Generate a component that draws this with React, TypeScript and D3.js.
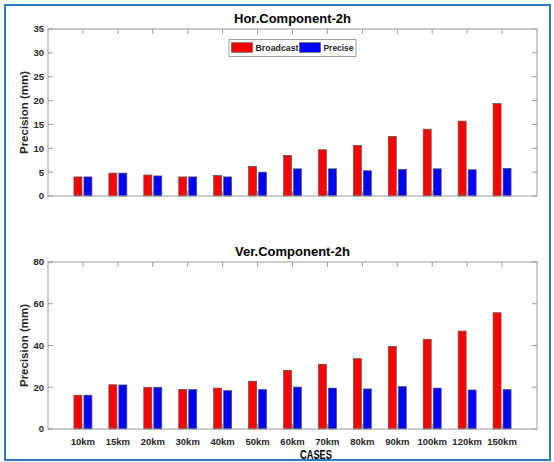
import React from "react";
import { scaleLinear, scaleBand } from "d3";

const cases = ["10km", "15km", "20km", "30km", "40km", "50km", "60km", "70km", "80km", "90km", "100km", "120km", "150km"];
const series = ["Broadcast", "Precise"];
const colors = ["#ff0000", "#0000ff"];

const horBroadcast = [4.0, 4.8, 4.4, 4.0, 4.3, 6.2, 8.5, 9.7, 10.6, 12.5, 14.0, 15.7, 19.4];
const horPrecise = [4.0, 4.8, 4.2, 4.0, 4.0, 5.0, 5.7, 5.7, 5.3, 5.6, 5.7, 5.5, 5.8];
const verBroadcast = [16.2, 21.2, 20.0, 19.0, 19.6, 22.9, 28.1, 31.0, 33.7, 39.6, 43.0, 46.9, 55.7];
const verPrecise = [16.2, 21.1, 20.0, 18.9, 18.4, 18.9, 20.1, 19.6, 19.2, 20.3, 19.6, 18.7, 18.9];

const horTicks = [0, 5, 10, 15, 20, 25, 30, 35];
const verTicks = [0, 20, 40, 60, 80];

const FONT = "'Liberation Sans', Arial, Helvetica, sans-serif";
const AXIS = "#9a9a9a";
const TXT = "#262626";

const left = 48;
const right = 537;

const Panel = ({ title, values, ticks, top, bottom, showLabels }) => {
  const x = scaleLinear().domain([0, cases.length + 1]).range([left, right]);
  const y = scaleLinear().domain([0, ticks[ticks.length - 1]]).range([bottom, top]);
  const sub = scaleBand().domain(series).range([-9, 9]).paddingInner(0.2);
  const tickLen = 5;

  return (
    <g>
      <text x={(left + right) / 2} y={top - 6.5} textAnchor="middle" fontFamily={FONT} fontWeight="bold" fontSize={13} fill="#000">
        {title}
      </text>
      {/* bars */}
      {cases.map((c, i) => (
        <g key={c} transform={`translate(${x(i + 1)},0)`}>
          {series.map((s, k) => (
            <rect
              key={s}
              x={sub(s)}
              width={sub.bandwidth()}
              y={y(values[k][i])}
              height={y(0) - y(values[k][i])}
              fill={colors[k]}
              stroke="#555"
              strokeWidth={0.7}
            />
          ))}
        </g>
      ))}
      {/* box */}
      <rect x={left} y={top} width={right - left} height={bottom - top} fill="none" stroke={AXIS} strokeWidth={1} />
      {/* x ticks, top and bottom, inward */}
      {cases.map((c, i) => (
        <g key={"t" + c}>
          <line x1={x(i + 1)} x2={x(i + 1)} y1={top} y2={top + tickLen} stroke={AXIS} />
          <line x1={x(i + 1)} x2={x(i + 1)} y1={bottom} y2={bottom - tickLen} stroke={AXIS} />
          {showLabels && (
            <text x={x(i + 1)} y={bottom + 15.8} textAnchor="middle" fontFamily={FONT} fontWeight="bold" fontSize={9.5} fill={TXT}>
              {c}
            </text>
          )}
        </g>
      ))}
      {/* y ticks */}
      {ticks.map((t) => (
        <g key={"y" + t}>
          <line x1={left} x2={left + tickLen} y1={y(t)} y2={y(t)} stroke={AXIS} />
          <line x1={right} x2={right - tickLen} y1={y(t)} y2={y(t)} stroke={AXIS} />
          <text x={left - 4} y={y(t) + 3.4} textAnchor="end" fontFamily={FONT} fontWeight="bold" fontSize={9.5} fill={TXT}>
            {t}
          </text>
        </g>
      ))}
      <text
        transform={`translate(28,${(top + bottom) / 2}) rotate(-90)`}
        textAnchor="middle"
        fontFamily={FONT}
        fontWeight="bold"
        fontSize={11.5}
        fill={TXT}
      >
        Precision (mm)
      </text>
    </g>
  );
};

// legend text widths as measured on the reference
const legendTextWidth = [43, 30];

const Legend = () => {
  const lx = 229;
  const ly = 39.5;
  return (
    <g>
      <rect x={lx} y={ly} width={127} height={17} fill="#fff" stroke="#a0a0a0" strokeWidth={1} />
      {series.map((s, k) => {
        const ox = lx + 2.5 + k * 68;
        return (
          <g key={s}>
            <rect x={ox} y={ly + 3.2} width={21} height={9.6} fill={colors[k]} stroke="#555" strokeWidth={0.6} />
            <text
              x={ox + 24}
              y={ly + 11.8}
              fontFamily={FONT}
              fontWeight="bold"
              fontSize={9}
              textLength={legendTextWidth[k]}
              lengthAdjust="spacingAndGlyphs"
              fill={TXT}
            >
              {s}
            </text>
          </g>
        );
      })}
    </g>
  );
};

export default function App() {
  return (
    <svg width={554} height={462} style={{ position: "absolute", left: 0, top: 0, background: "#fff" }}>
      <rect x={0} y={0} width={554} height={462} fill="#fff" />
      <rect x={5} y={5} width={545} height={455} fill="none" stroke="#2f7bc4" strokeWidth={2} />
      <Panel title="Hor.Component-2h" values={[horBroadcast, horPrecise]} ticks={horTicks} top={29} bottom={196} showLabels={false} />
      <Legend />
      <Panel title="Ver.Component-2h" values={[verBroadcast, verPrecise]} ticks={verTicks} top={262} bottom={429} showLabels={true} />
      <text x={316} y={458.5} textAnchor="middle" fontFamily={FONT} fontWeight="bold" fontSize={12} textLength={32} lengthAdjust="spacingAndGlyphs" fill="#000">
        CASES
      </text>
    </svg>
  );
}
